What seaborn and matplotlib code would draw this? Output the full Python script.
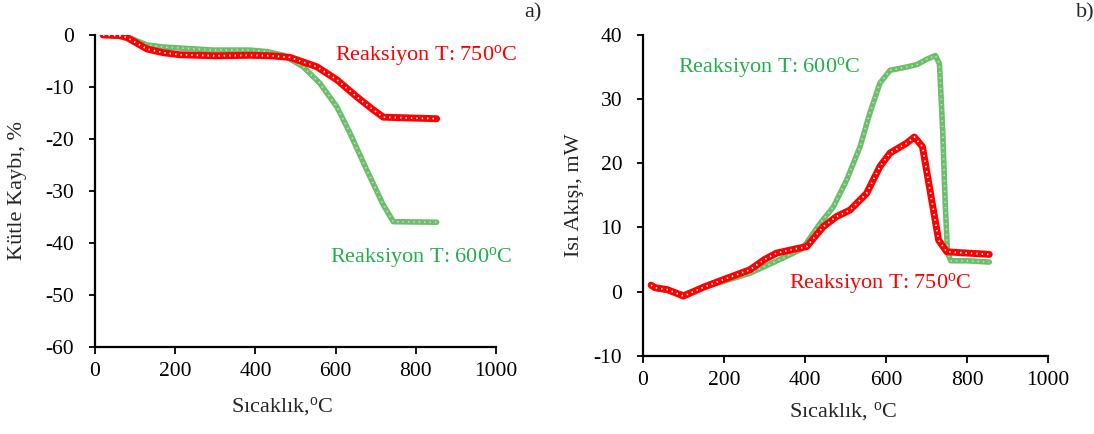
import numpy as np
import pandas as pd
import matplotlib
matplotlib.use("Agg")
import matplotlib.pyplot as plt
import seaborn as sns

# ---- data ----
tga_T_750 = [20, 60, 80, 130, 170, 212, 300, 387, 440, 486, 553, 603, 653, 694, 719, 760, 852]
tga_m_750 = [0, -0.1, -0.5, -2.7, -3.4, -3.8, -4.0, -3.9, -4.0, -4.3, -6.1, -8.6, -11.9, -14.4, -15.8, -15.9, -16.1]

tga_T_600 = [20, 79, 129, 170, 295, 387, 430, 470, 519, 561, 603, 636, 678, 719, 744, 852]
tga_m_600 = [0, -0.3, -1.9, -2.3, -2.9, -2.9, -3.2, -3.9, -6.1, -9.3, -13.8, -18.9, -26.0, -32.7, -35.9, -36.0]

dsc_T_750 = [20, 30, 60, 100, 150, 200, 264, 300, 330, 380, 404, 445, 478, 511, 552, 585, 610, 650, 670, 690, 710, 730, 750, 800, 855]
dsc_q_750 = [1.0, 0.6, 0.3, -0.7, 0.7, 1.9, 3.4, 5.0, 6.0, 6.7, 7.0, 10.1, 11.7, 12.7, 15.3, 19.5, 21.6, 23.1, 24.1, 22.6, 15.3, 8.0, 6.2, 6.0, 5.8]

dsc_T_600 = [20, 30, 60, 100, 157, 264, 338, 388, 404, 437, 470, 503, 536, 560, 585, 610, 650, 677, 700, 722, 732, 740, 746, 752, 760, 800, 855]
dsc_q_600 = [1.0, 0.5, 0.2, -0.5, 0.8, 2.85, 5.0, 6.5, 7.6, 10.6, 13.2, 17.4, 22.6, 27.8, 32.5, 34.5, 35.0, 35.4, 36.2, 36.8, 35.5, 25.0, 14.0, 6.0, 4.8, 4.8, 4.6]

x_ticks = [0, 200, 400, 600, 800, 1000]
left_yticks = [0, -10, -20, -30, -40, -50, -60]
right_yticks = [40, 30, 20, 10, 0, -10]

RED = "#ff0000"
GREEN = "#6cbd6c"
GREEN_DOT = "#b9e3b9"
GREEN_TXT = "#22b04a"

sns.set_style("ticks")
plt.rcParams["font.family"] = ["Liberation Serif", "DejaVu Serif"]
plt.rcParams["mathtext.fontset"] = "custom"
plt.rcParams["mathtext.rm"] = "Liberation Serif"
plt.rcParams["mathtext.it"] = "Liberation Serif:italic"
plt.rcParams["axes.unicode_minus"] = False

W, H = 1094, 434
fig = plt.figure(figsize=(W / 100, H / 100), dpi=100)
ax1 = fig.add_axes([95 / W, 1 - 347 / H, 401 / W, 312 / H])
ax2 = fig.add_axes([643 / W, 1 - 355.7 / H, 405 / W, 320.7 / H])

FS = 16
TFS = 15.5
deg = r"$^{\mathrm{o}}$"


def draw(ax, x, y, color, dotcolor, lw):
    df = pd.DataFrame({"x": x, "y": y})
    sns.lineplot(data=df, x="x", y="y", ax=ax, color=color, lw=lw,
                 solid_capstyle="round", solid_joinstyle="round",
                 sort=False, estimator=None)
    ax.plot(x, y, color=dotcolor, lw=1.3, linestyle=(0, (0.8, 2.2)))


def style(ax, yticks, ylim):
    ax.set_xlim(0, 1000)
    ax.set_ylim(*ylim)
    ax.set_xticks(x_ticks)
    ax.set_yticks(yticks)
    for s in ["top", "right"]:
        ax.spines[s].set_visible(False)
    for s in ["left", "bottom"]:
        ax.spines[s].set_color("black")
        ax.spines[s].set_linewidth(1.6)
    ax.tick_params(axis="x", direction="out", length=5, width=1.3,
                   labelsize=TFS, colors="black", pad=6)
    ax.tick_params(axis="y", direction="out", length=4, width=1.3,
                   labelsize=TFS, colors="black", pad=11)


# left panel
draw(ax1, tga_T_600, tga_m_600, GREEN, GREEN_DOT, 4.0)
draw(ax1, tga_T_750, tga_m_750, RED, "white", 5.0)
style(ax1, left_yticks, (-60, 0))
ax1.set_xlabel("Sıcaklık," + deg + "C", fontsize=FS, va="center")
ax1.xaxis.set_label_coords((282 - 95) / 401, -(407 - 347) / 312)
ax1.set_ylabel("Kütle Kaybı, %", fontsize=FS, va="center")
ax1.yaxis.set_label_coords((18 - 95) / 401, 0.5)
fig.text(335 / W, 1 - 56 / H, "Reaksiyon T: 750" + deg + "C",
         color=RED, fontsize=FS, va="center", ha="left")
fig.text(330 / W, 1 - 257 / H, "Reaksiyon T: 600" + deg + "C",
         color=GREEN_TXT, fontsize=FS, va="center", ha="left")
fig.text(524 / W, 1 - 13 / H, "a)", fontsize=FS, ha="left", va="center")

# right panel
draw(ax2, dsc_T_600, dsc_q_600, GREEN, GREEN_DOT, 4.0)
draw(ax2, dsc_T_750, dsc_q_750, RED, "white", 5.0)
style(ax2, right_yticks, (-10, 40))
ax2.set_xlabel("Sıcaklık, " + deg + "C", fontsize=FS, va="center")
ax2.xaxis.set_label_coords((843 - 643) / 405, -(412 - 355.7) / 320.7)
ax2.set_ylabel("Isı Akışı, mW", fontsize=FS, va="center")
ax2.yaxis.set_label_coords((575 - 643) / 405, 0.5)
fig.text(678 / W, 1 - 67 / H, "Reaksiyon T: 600" + deg + "C",
         color=GREEN_TXT, fontsize=FS, va="center", ha="left")
fig.text(789 / W, 1 - 284 / H, "Reaksiyon T: 750" + deg + "C",
         color=RED, fontsize=FS, va="center", ha="left")
fig.text(1076 / W, 1 - 13 / H, "b)", fontsize=FS, ha="left", va="center")

fig.savefig("out.png", dpi=100)
